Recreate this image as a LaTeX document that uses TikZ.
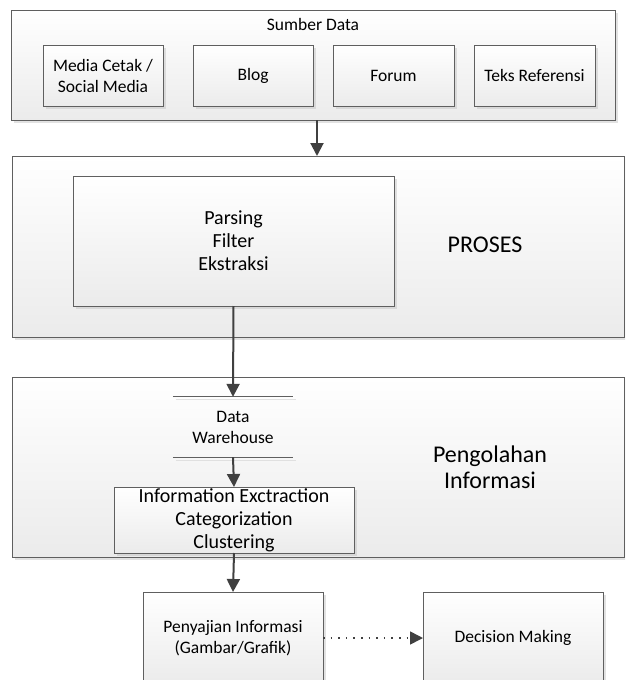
\documentclass[tikz,border=0pt]{standalone}
\usepackage{fontspec}
\setmainfont{Carlito}
\usetikzlibrary{arrows.meta,shadows,calc}
\definecolor{bordc}{HTML}{5F5F5F}
\definecolor{arrc}{HTML}{404040}
\definecolor{fillc}{HTML}{EBEBEB}
\begin{document}
\begin{tikzpicture}[x=1pt,y=-1pt,
  box/.style={draw=bordc,line width=0.8pt,top color=white,bottom color=fillc,
    inner sep=0pt,outer sep=0pt,align=center,
    drop shadow={shadow xshift=2.5pt,shadow yshift=-2.5pt,fill=black!25,opacity=0.45}},
  txt/.style={font=\fontsize{17.5}{21}\selectfont,align=center,inner sep=0pt},
  midtxt/.style={font=\fontsize{20}{23}\selectfont,align=center,inner sep=0pt},
  bigtxt/.style={font=\fontsize{24}{26}\selectfont,align=center,inner sep=0pt},
  arr/.style={draw=arrc,line width=2pt,-{Triangle[width=13pt,length=13pt]}},
  dotarr/.style={draw=arrc,line width=1.6pt,dash pattern=on 1.6pt off 6pt,-{Triangle[width=13pt,length=13pt]}},
  dwline/.style={draw=bordc,line width=1pt},
  dwshade/.style={draw=black!12,line width=1pt}]
\useasboundingbox (0,0) rectangle (625,680);
\clip (0,0) rectangle (625,680);
% Sumber Data
\node[box,minimum width=604pt,minimum height=110pt] (b1) at (313,65) {};
\node[txt] (b1t) at (313,24) {Sumber Data};
\node[box,txt,minimum width=120pt,minimum height=61pt] (m) at (103,75.5) {Media Cetak /\\Social Media};
\node[box,txt,minimum width=120pt,minimum height=61pt] (blog) at (253,75.5) {Blog};
\node[box,txt,minimum width=121pt,minimum height=61pt] (forum) at (393.5,75.5) {Forum};
\node[box,txt,minimum width=121pt,minimum height=61pt] (teks) at (534.5,75.5) {Teks Referensi};
% Proses
\node[box,minimum width=612pt,minimum height=181pt] (b2) at (318,246.5) {};
\node[box,midtxt,minimum width=321pt,minimum height=130pt] (p) at (233.5,241) {Parsing\\Filter\\Ekstraksi};
\node[bigtxt] (proses) at (485,245) {PROSES};
% Pengolahan
\node[box,minimum width=612pt,minimum height=180pt] (b3) at (318,467) {};
\node[inner sep=0pt,minimum width=120pt,minimum height=60pt] (dw) at (233,427) {};
\node[txt] (dwt) at (dw.center) {Data\\Warehouse};
\draw[dwshade] ([shift={(3pt,-3pt)}]dw.north west) -- ([shift={(3pt,-3pt)}]dw.north east);
\draw[dwshade] ([shift={(3pt,-3pt)}]dw.south west) -- ([shift={(3pt,-3pt)}]dw.south east);
\draw[dwline] (dw.north west) -- (dw.north east);
\draw[dwline] (dw.south west) -- (dw.south east);
\node[bigtxt] (peng) at (490,467) {Pengolahan\\Informasi};
\node[box,minimum width=240pt,minimum height=66pt] (info) at (234,520) {};
\node[midtxt] (infot) at (234,520) {Information Exctraction\\Categorization\\Clustering};
% Bottom
\node[box,txt,minimum width=180pt,minimum height=92pt] (pen) at (233,638) {Penyajian Informasi\\(Gambar/Grafik)};
\node[box,txt,minimum width=180pt,minimum height=92pt] (dec) at (513,638) {Decision Making};
% Connectors
\draw[arr] ([xshift=4pt]b1.south) -- ([xshift=4pt]b1.south |- b2.north);
\draw[arr] (p.south) -- (dw.north);
\draw[arr] (dw.south) -- (info.north);
\draw[arr] (info.south) -- (pen.north);
\draw[dotarr] (pen.east) -- (dec.west);
\end{tikzpicture}
\end{document}
